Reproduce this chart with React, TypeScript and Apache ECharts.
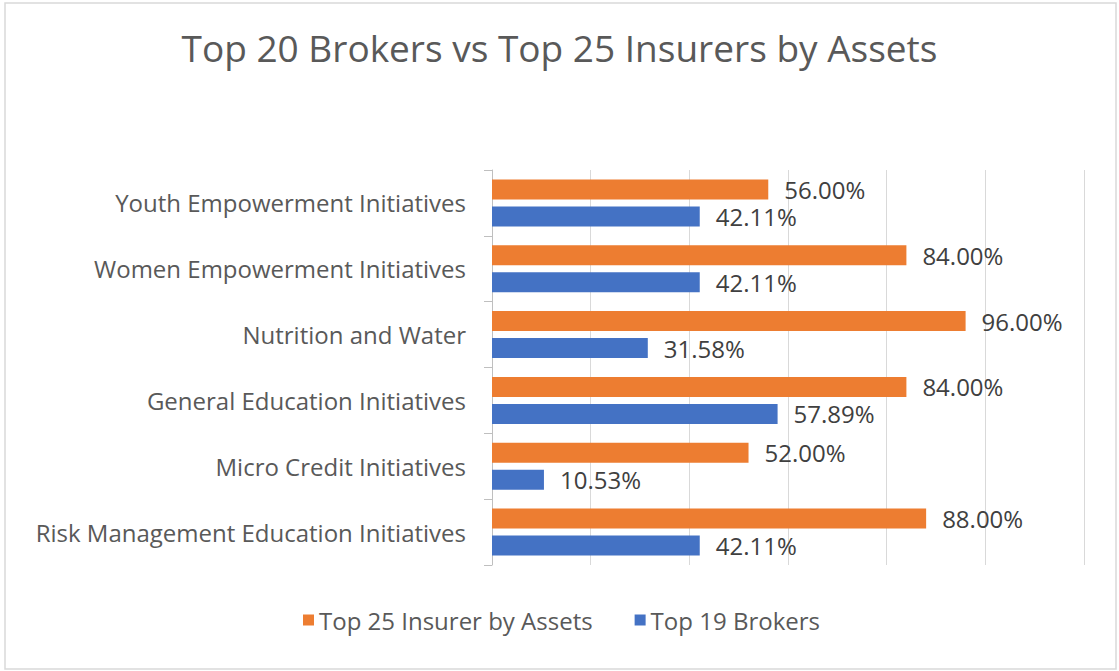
import React, { useEffect, useRef } from "react";
import * as echarts from "echarts";

const categories = [
  "Risk Management Education Initiatives",
  "Micro Credit Initiatives",
  "General Education Initiatives",
  "Nutrition and Water",
  "Women Empowerment Initiatives",
  "Youth Empowerment Initiatives",
];
const insurers = [88, 52, 84, 96, 84, 56];
const brokers = [42.11, 10.53, 57.89, 31.58, 42.11, 42.11];
const seriesNames = ["Top 25 Insurer by Assets", "Top 19 Brokers"];
const title = "Top 20 Brokers vs Top 25 Insurers by Assets";

const FONT = "'Open Sans', 'Noto Sans', sans-serif";

export default function App() {
  const ref = useRef<HTMLDivElement>(null);
  useEffect(() => {
    const chart = echarts.init(ref.current!, null, { renderer: "svg" });
    const label = {
      show: true,
      position: "right",
      distance: 16,
      color: "#404040",
      fontSize: 24,
      fontFamily: FONT,
      formatter: (p: any) => Number(p.value).toFixed(2) + "%",
    };
    chart.setOption({
      animation: false,
      backgroundColor: "#ffffff",
      title: {
        text: title,
        left: "center",
        top: 24,
        textStyle: { color: "#595959", fontSize: 37, fontWeight: "normal", fontFamily: FONT },
      },
      graphic: [
        {
          type: "rect",
          shape: { x: 5, y: 3, width: 1111, height: 666 },
          style: { fill: "none", stroke: "#d9d9d9", lineWidth: 1.5 },
          silent: true,
        },
      ],
      legend: {
        data: seriesNames,
        top: 603,
        left: 298,
        itemWidth: 11,
        itemHeight: 11,
        itemGap: 42,
        icon: "rect",
        textStyle: { color: "#595959", fontSize: 24, fontFamily: FONT },
      },
      grid: { left: 492, right: 35, top: 170, bottom: 106, containLabel: false },
      xAxis: {
        type: "value",
        min: 0,
        max: 120,
        interval: 20,
        axisLabel: { show: false },
        axisLine: { show: false },
        axisTick: { show: false },
        splitLine: { show: true, lineStyle: { color: "#d9d9d9", width: 1 } },
      },
      yAxis: {
        type: "category",
        data: categories,
        axisLine: { show: true, lineStyle: { color: "#bfbfbf" } },
        axisTick: { show: true, length: 8, lineStyle: { color: "#bfbfbf" } },
        axisLabel: { color: "#595959", fontSize: 24, fontFamily: FONT, margin: 26, padding: [0, 0, 5, 0] },
      },
      series: [
        {
          name: seriesNames[0],
          type: "bar",
          data: insurers,
          barWidth: 20,
          barGap: "35%",
          itemStyle: { color: "#ed7d31" },
          label,
        },
        {
          name: seriesNames[1],
          type: "bar",
          data: brokers,
          barWidth: 20,
          barGap: "35%",
          itemStyle: { color: "#4472c4" },
          label,
        },
      ],
    });
    return () => chart.dispose();
  }, []);
  return (
    <div
      ref={ref}
      style={{ position: "fixed", left: 0, top: 0, width: 1119, height: 671 }}
    />
  );
}
